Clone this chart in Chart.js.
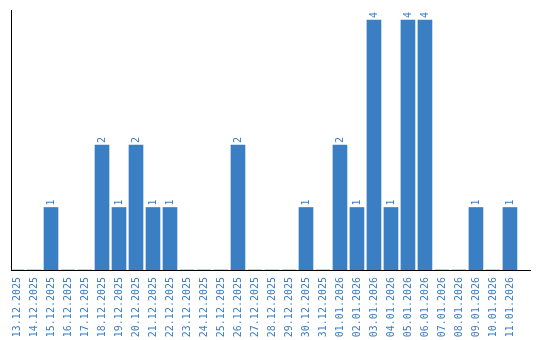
<!DOCTYPE html>
<html>
<head>
<meta charset="utf-8">
<script src="https://cdn.jsdelivr.net/npm/chart.js@4"></script>
<style>
  html, body { margin: 0; padding: 0; background: #fff; }
  canvas { display: block; }
</style>
</head>
<body>
<canvas id="chart" width="540" height="340"></canvas>
<script>
const dates = [
  "13.12.2025", "14.12.2025", "15.12.2025", "16.12.2025", "17.12.2025",
  "18.12.2025", "19.12.2025", "20.12.2025", "21.12.2025", "22.12.2025",
  "23.12.2025", "24.12.2025", "25.12.2025", "26.12.2025", "27.12.2025",
  "28.12.2025", "29.12.2025", "30.12.2025", "31.12.2025", "01.01.2026",
  "02.01.2026", "03.01.2026", "04.01.2026", "05.01.2026", "06.01.2026",
  "07.01.2026", "08.01.2026", "09.01.2026", "10.01.2026", "11.01.2026"
];
const counts = [
  0, 0, 1, 0, 0,
  2, 1, 2, 1, 1,
  0, 0, 0, 2, 0,
  0, 0, 1, 0, 2,
  1, 4, 1, 4, 4,
  0, 0, 1, 0, 1
];

const blue = "#3a7ec3";
const fontFamily = "'DejaVu Sans Mono', monospace";

// value label above each bar, rotated like the axis labels
const valueLabels = {
  id: "valueLabels",
  afterDatasetsDraw(chart) {
    const ctx = chart.ctx;
    const meta = chart.getDatasetMeta(0);
    ctx.save();
    ctx.fillStyle = blue;
    ctx.font = "10px " + fontFamily;
    ctx.textAlign = "left";
    ctx.textBaseline = "middle";
    meta.data.forEach((bar, i) => {
      if (!counts[i]) return;
      ctx.save();
      ctx.translate(bar.x, bar.y - 2);
      ctx.rotate(-Math.PI / 2);
      ctx.fillText(String(counts[i]), 0, 0);
      ctx.restore();
    });
    ctx.restore();
  }
};

new Chart(document.getElementById("chart"), {
  type: "bar",
  data: {
    datasets: [{
      data: counts.map((v, i) => ({ x: i, y: v })),
      backgroundColor: blue,
      borderWidth: 0,
      barThickness: 14
    }]
  },
  options: {
    responsive: false,
    animation: false,
    layout: { padding: { left: 10, top: 10, right: 10, bottom: 0 } },
    plugins: {
      legend: { display: false },
      tooltip: { enabled: false }
    },
    scales: {
      x: {
        type: "linear",
        offset: false,
        min: -0.353,
        max: 30.18,
        afterBuildTicks(scale) {
          scale.ticks = dates.map((_, i) => ({ value: i }));
        },
        afterFit(scale) {
          scale.height = 70;
          scale.paddingLeft = 0;
          scale.paddingRight = 0;
        },
        grid: { display: false, drawTicks: false },
        border: { display: true, color: "#000", width: 1 },
        ticks: {
          autoSkip: false,
          minRotation: 90,
          maxRotation: 90,
          padding: 7,
          color: blue,
          font: { family: fontFamily, size: 10 },
          callback: (value) => dates[value]
        }
      },
      y: {
        min: 0,
        max: 4.16,
        afterFit(scale) { scale.width = 1; },
        grid: { display: false, drawTicks: false },
        border: { display: true, color: "#000", width: 1 },
        ticks: { display: false }
      }
    }
  },
  plugins: [valueLabels]
});
</script>
</body>
</html>
